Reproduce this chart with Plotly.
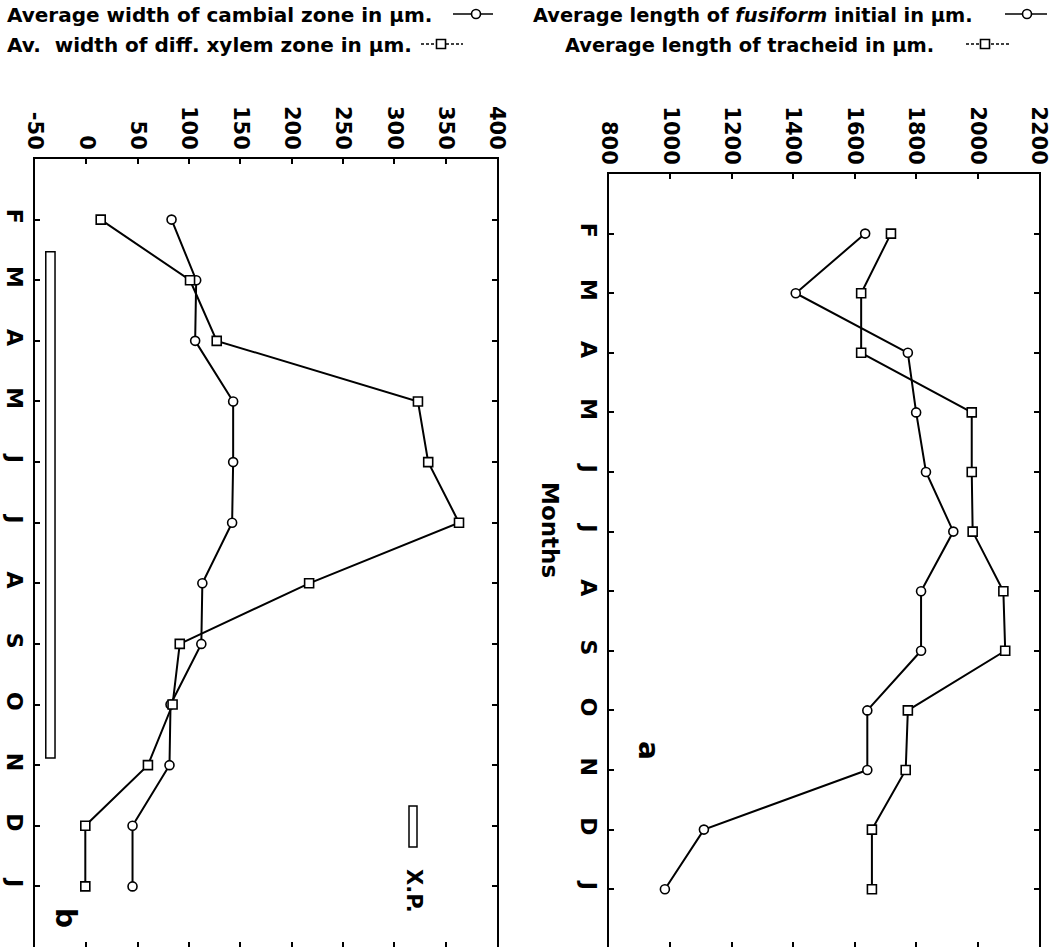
import plotly.graph_objects as go

W, H = 1059, 947

months = ["F", "M", "A", "M", "J", "J", "A", "S", "O", "N", "D", "J"]
month_pos = list(range(1, 13))

# panel b
cambial_width = [83, 107, 106, 143, 143, 142, 113, 112, 82, 81, 45, 45]
xylem_width = [14, 101, 127, 323, 333, 363, 217, 91, 84, 60, -1, -1]
b_ticks = [-50, 0, 50, 100, 150, 200, 250, 300, 350, 400]
b_ticktext = ["-50", "0", "50", "100", "150", "200", "250", "300", "350", "400"]

# panel a
fusiform_len = [1634, 1408, 1773, 1800, 1832, 1921, 1816, 1816, 1641, 1641, 1109, 982]
tracheid_len = [1718, 1621, 1621, 1981, 1981, 1984, 2084, 2090, 1773, 1766, 1656, 1656]
a_ticks = [800, 1000, 1200, 1400, 1600, 1800, 2000, 2200]
a_ticktext = ["800", "1000", "1200", "1400", "1600", "1800", "2000", "2200"]

# X.P. period (month positions) and its x-span on panel b
xp_month_start, xp_month_end = 1.53, 9.88
xp_val_start, xp_val_end = -39.5, -30.5

FONT = "DejaVu Sans"


def px(x):
    return x / W


def py(y):
    return 1 - y / H


def series(x, y, symbol, xa, ya):
    return go.Scatter(
        x=x, y=y, xaxis=xa, yaxis=ya, mode="lines+markers",
        line=dict(color="black", width=2),
        marker=dict(symbol=symbol, size=9, color="white",
                    line=dict(color="black", width=1.6)),
        showlegend=False, hoverinfo="skip",
    )


fig = go.Figure()
fig.add_trace(series(cambial_width, month_pos, "circle", "x", "y"))
fig.add_trace(series(xylem_width, month_pos, "square", "x", "y"))
fig.add_trace(series(fusiform_len, month_pos, "circle", "x2", "y2"))
fig.add_trace(series(tracheid_len, month_pos, "square", "x2", "y2"))

tickfont = dict(family=FONT, size=21, color="black", weight="bold")
monthfont = dict(family=FONT, size=22, color="black", weight="bold")

common_val = dict(side="top", tickangle=90, ticks="inside", ticklen=5,
                  tickwidth=1.5, tickcolor="black", showline=True,
                  linecolor="black", linewidth=1.8, mirror="ticks",
                  showgrid=False, zeroline=False, tickfont=tickfont,
                  automargin=False)
common_mon = dict(tickvals=month_pos, ticktext=months, tickangle=90,
                  ticks="inside", ticklen=5, tickwidth=1.5, tickcolor="black",
                  showline=True, linecolor="black", linewidth=1.8,
                  mirror="ticks", showgrid=False, zeroline=False,
                  tickfont=monthfont, automargin=False)

fig.update_layout(
    width=W, height=H,
    margin=dict(l=0, r=0, t=0, b=0, autoexpand=False),
    paper_bgcolor="white", plot_bgcolor="white",
    xaxis=dict(domain=[px(35), px(497)], range=[-50, 400], tickvals=b_ticks,
               ticktext=b_ticktext, anchor="y", **common_val),
    yaxis=dict(domain=[0, py(159)], range=[13, 0], anchor="x", **common_mon),
    xaxis2=dict(domain=[px(609), px(1039)], range=[800, 2200],
                tickvals=a_ticks, ticktext=a_ticktext, anchor="y2",
                **common_val),
    yaxis2=dict(domain=[0, py(174)], range=[12.97, 0], anchor="x2",
                **common_mon),
)

shapes = []
# X.P. bar in panel b (data coordinates)
shapes.append(dict(type="rect", xref="x", yref="y",
                   x0=xp_val_start, x1=xp_val_end,
                   y0=xp_month_start, y1=xp_month_end,
                   line=dict(color="black", width=1.5), fillcolor="white"))
# X.P. key
shapes.append(dict(type="rect", xref="paper", yref="paper",
                   x0=px(409), x1=px(417), y0=py(806), y1=py(847),
                   line=dict(color="black", width=1.5), fillcolor="white"))


def key(x0, x1, y, xm, symbol, dashed):
    shapes.append(dict(type="line", xref="paper", yref="paper",
                       x0=px(x0), x1=px(x1), y0=py(y), y1=py(y),
                       line=dict(color="black", width=1.6,
                                 dash="3px,2px" if dashed else "solid")))
    r = 4.5
    shapes.append(dict(type="circle" if symbol == "circle" else "rect",
                       xref="paper", yref="paper",
                       x0=px(xm - r), x1=px(xm + r), y0=py(y - r), y1=py(y + r),
                       line=dict(color="black", width=1.6), fillcolor="white"))


key(453, 493, 14, 476, "circle", False)
key(421, 463, 44, 441, "square", True)
key(1005, 1047, 14, 1027, "circle", False)
key(966, 1010, 44, 985, "square", True)
fig.update_layout(shapes=shapes)

lfont = dict(family=FONT, size=20, color="black", weight="bold")
lfont_a = dict(family=FONT, size=19.4, color="black", weight="bold")
ann = []


def text(t, x, y, xanchor="left", angle=0, font=lfont):
    ann.append(dict(text=t, x=px(x), y=py(y), xref="paper", yref="paper",
                    xanchor=xanchor, yanchor="middle", showarrow=False,
                    textangle=angle, font=font))


text("Average width of cambial zone in µm.", 5, 15)
text("Av.&nbsp; width of diff. xylem zone in µm.", 5, 45)
text("Average length of <i>fusiform</i> initial in µm.", 531, 15, font=lfont_a)
text("Average length of tracheid in µm.", 563, 45, font=lfont_a)
text("Months", 550, 530, xanchor="center", angle=90,
     font=dict(family=FONT, size=23, color="black", weight="bold"))
text("a", 649, 750, xanchor="center", angle=90,
     font=dict(family=FONT, size=28, color="black", weight="bold"))
text("b", 66, 918, xanchor="center", angle=90,
     font=dict(family=FONT, size=28, color="black", weight="bold"))
text("X.P.", 414, 891, xanchor="center", angle=90,
     font=dict(family=FONT, size=21, color="black", weight="bold"))
fig.update_layout(annotations=ann)

fig.write_html(
    "out.html",
    config={"displayModeBar": False},
    post_script="document.body.style.margin='0px';"
                "document.body.style.padding='0px';"
                "document.body.style.overflow='hidden';",
)
